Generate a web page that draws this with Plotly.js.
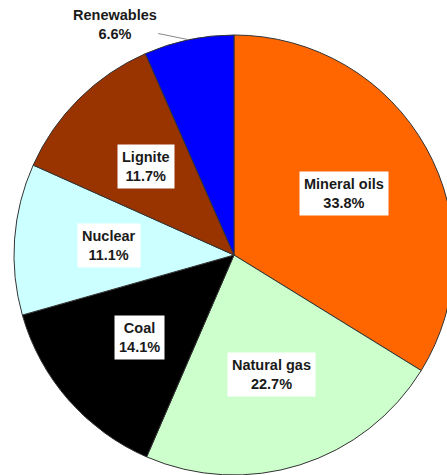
<!DOCTYPE html>
<html>
<head>
<meta charset="utf-8">
<script src="https://cdn.plot.ly/plotly-3.0.1.min.js"></script>
<style>
html,body{margin:0;padding:0;overflow:hidden;background:#fff;width:447px;height:475px;}
#chart{width:460px;height:475px;}
</style>
</head>
<body>
<div id="chart"></div>
<script>
const labels = ["Mineral oils", "Natural gas", "Coal", "Nuclear", "Lignite", "Renewables"];
const values = [33.8, 22.7, 14.1, 11.1, 11.7, 6.6];
const colors = ["#FF6600", "#CCFFCC", "#000000", "#CCFFFF", "#993300", "#0000FF"];

const W = 460, H = 475;
const M = {l: 14, r: 6, t: 35, b: 0};
const plotW = W - M.l - M.r, plotH = H - M.t - M.b;
const R = Math.min(plotW, plotH) / 2;

const total = values.reduce((a, b) => a + b, 0);
const annotations = [];
let cum = 0;
values.forEach((v, i) => {
  const mid = (cum + v / 2) / total * 2 * Math.PI;
  cum += v;
  const txt = "<b>" + labels[i] + "<br>" + v.toFixed(1) + "%</b>";
  if (labels[i] === "Renewables") {
    const dx = R * Math.sin(mid), dy = -R * Math.cos(mid);
    annotations.push({
      xref: "paper", yref: "paper",
      x: 0.5 + dx / plotW, y: 0.5 - dy / plotH,
      text: txt, showarrow: true, arrowhead: 0, arrowwidth: 1, arrowcolor: "#888",
      ax: -74, ay: -15,
      font: {family: "Liberation Sans, Arial, sans-serif", size: 14.5, color: "#1a1a1a"},
      bgcolor: "rgba(0,0,0,0)"
    });
  } else {
    const f = 0.57;
    const dx = f * R * Math.sin(mid), dy = -f * R * Math.cos(mid);
    annotations.push({
      xref: "paper", yref: "paper",
      x: 0.5 + dx / plotW, y: 0.5 - dy / plotH,
      xanchor: "center", yanchor: "middle",
      text: txt, showarrow: false,
      font: {family: "Liberation Sans, Arial, sans-serif", size: 14.5, color: "#1a1a1a"},
      bgcolor: "#FFFFFF", borderpad: 4
    });
  }
});

const data = [{
  type: "pie",
  labels: labels,
  values: values,
  sort: false,
  direction: "clockwise",
  rotation: 0,
  textinfo: "none",
  hoverinfo: "label+percent",
  marker: {colors: colors, line: {color: "#333", width: 1}},
  showlegend: false
}];

const layout = {
  width: W, height: H,
  margin: M,
  paper_bgcolor: "#FFFFFF",
  plot_bgcolor: "#FFFFFF",
  showlegend: false,
  annotations: annotations
};

Plotly.newPlot("chart", data, layout, {displayModeBar: false, staticPlot: true});
</script>
</body>
</html>
